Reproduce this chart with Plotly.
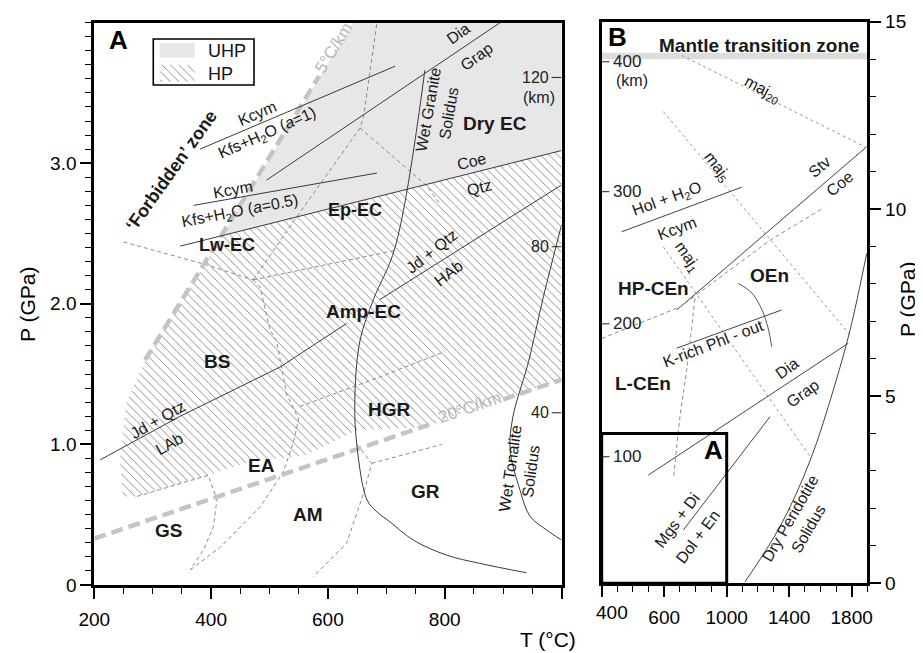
import plotly.graph_objects as go

FONT = "Liberation Sans, Arial, Helvetica, sans-serif"
# page body has an 8px margin: the figure is sized/positioned to compensate
OFF = 8
FW, FH = 923 - OFF, 653 - OFF

def px(x):
    return (x - OFF) / FW

def py(y):
    return 1 - (y - OFF) / FH

# ---------------- Panel A data (T in °C, P in GPa) ----------------
uhp_T = [418, 643, 1000, 1000]
uhp_P = [2.48, 4.0, 4.0, 3.09]
hp_T = [249, 244, 255, 287, 418, 1000, 1000, 760, 650, 560, 470, 395, 273]
hp_P = [0.63, 0.90, 1.30, 1.60, 2.48, 3.09, 1.46, 1.12, 1.10, 0.92, 0.88, 0.78, 0.63]
# geotherms (None = gap left for the label)
geo5_T = [287, 585]
geo5_P = [1.60, 3.62]
geo20_T = [200, 785, None, 900, 1000]
geo20_P = [0.33, 1.157, None, 1.319, 1.46]
kcym1_T = [381, 715]
kcym1_P = [3.10, 3.69]
kcym05_T = [370, 684]
kcym05_P = [2.70, 2.93]
diagrapA_T = [495, 895]
diagrapA_P = [2.88, 4.00]
coeqtzA_T = [347, 1000]
coeqtzA_P = [2.41, 3.09]
jdqtzA_T = [210, 347, 518, 632, None, 689, 1000]
jdqtzA_P = [0.89, 1.20, 1.55, 1.86, None, 2.03, 2.845]
wetgran_T = [766, 715, 678, 655, 646, 650, 667, 684, 706, 746, 803, 860, 940]
wetgran_P = [3.66, 2.40, 2.03, 1.74, 1.30, 0.98, 0.605, 0.52, 0.45, 0.32, 0.213, 0.154, 0.087]
wettonal_T = [1000, 969, 943, 917, 912, 929, 946, 975, 1000]
wettonal_P = [2.56, 2.05, 1.58, 1.20, 0.96, 0.675, 0.49, 0.39, 0.32]
facies_A = {
    "f1": ([250, 390, 472], [2.44, 2.28, 2.17]),
    "f2": ([472, 535, 655, 661, 684], [2.17, 2.55, 3.25, 3.33, 4.0]),
    "f3": ([655, 769, 790], [3.25, 2.84, 2.72]),
    "f4": ([472, 715], [2.17, 2.38]),
    "f5": ([472, 484, 501, 512, 529, 550, 540, 523, 484, 416, 364],
           [2.17, 2.12, 1.81, 1.74, 1.36, 1.18, 1.00, 0.80, 0.555, 0.27, 0.107]),
    "f6": ([273, 395, 410, 404, 387, 364], [0.63, 0.78, 0.61, 0.415, 0.25, 0.107]),
    "f7": ([650, 675, 661, 632, 575], [1.0, 0.865, 0.652, 0.297, 0.06]),
    "f8": ([675, 795], [0.865, 1.0]),
    "f9": ([552, 689, 800], [1.27, 1.48, 1.66]),
}
depthA_P = [3.61, 2.406, 1.225]
depthA_lab = ["120", "80", "40"]

# ---------------- Panel B data ----------------
tz_P = [14.0, 14.17]
maj20_T = [712, 1885]
maj20_P = [14.1, 11.66]
maj5_T = [594, 1790]
maj5_P = [12.6, 6.63]
maj1_T = [594, 1540]
maj1_P = [8.99, 3.35]
stvcoe_T = [680, 1896]
stvcoe_P = [7.30, 11.66]
cen_T = [200, 700, 1280, 1608]
cen_P = [6.54, 7.38, 9.17, 10.0]
hol_T = [328, 1096]
hol_P = [9.39, 10.58]
phl_T = [680, 1352]
phl_P = [6.28, 7.30]
oen_T = [1074, 1162, 1226, 1265, 1288]
oen_P = [8.01, 7.75, 7.30, 6.82, 6.32]
diagrapB_T = [498, 1778]
diagrapB_P = [2.89, 6.41]
solidus_T = [1117, 1341, 1535, 1682, 1790, 1896]
solidus_P = [0.04, 1.51, 3.29, 5.16, 6.77, 8.81]
mgs_T = [722, 1277]
mgs_P = [1.42, 4.45]
cenv_T = [797, 744, 701, 660]
cenv_P = [7.61, 5.70, 4.45, 2.80]
depthB_P = [13.93, 10.46, 6.93, 3.38]
depthB_lab = ["400", "300", "200", "100"]

# ticks
xA_ticks = [200, 400, 600, 800, 1000]
xA_text = ["200", "400", "600", "800", ""]
yA_ticks = [0, 1, 2, 3]
yA_text = ["0", "1.0", "2.0", "3.0"]
xB_ticks = [200, 600, 1000, 1400, 1800]
xB_text = ["", "600", "1000", "1400", "1800"]
xB_first_label = "400"
yB_ticks = [0, 5, 10, 15]
yB_text = ["0", "5", "10", "15"]

fig = go.Figure()

def ax(p):
    return ("x", "y") if p == "A" else ("x2", "y2")

def line(p, T, P, color="#3a3a3a", width=1.0, dash="solid", shape="linear"):
    xa, ya = ax(p)
    fig.add_trace(go.Scatter(x=T, y=P, mode="lines", xaxis=xa, yaxis=ya,
                             line=dict(color=color, width=width, dash=dash, shape=shape),
                             hoverinfo="skip", showlegend=False, connectgaps=False))

# fills
fig.add_trace(go.Scatter(x=uhp_T, y=uhp_P, fill="toself", fillcolor="#e7e7e7",
                         mode="none", xaxis="x", yaxis="y", showlegend=False, hoverinfo="skip"))
hatch = dict(shape="\\", size=6, solidity=0.14, fgcolor="#7a7a7a", bgcolor="rgba(255,255,255,0)")
fig.add_trace(go.Scatter(x=hp_T, y=hp_P, fill="toself", fillcolor="rgba(255,255,255,0)",
                         fillpattern=hatch, mode="none", xaxis="x", yaxis="y",
                         showlegend=False, hoverinfo="skip"))
# legend hatch patch
fig.add_trace(go.Scatter(x=[312, 372, 372, 312], y=[3.58, 3.58, 3.70, 3.70], fill="toself",
                         fillcolor="rgba(255,255,255,0)", fillpattern=hatch, mode="none",
                         xaxis="x", yaxis="y", showlegend=False, hoverinfo="skip"))

# panel A lines
DASH = "4px,3px"
for T, P in facies_A.values():
    line("A", T, P, color="#8a8a8a", width=1.0, dash=DASH)
line("A", geo5_T, geo5_P, color="#c4c4c4", width=4.5, dash="12px,6px")
line("A", geo20_T, geo20_P, color="#c4c4c4", width=4.5, dash="12px,6px")
line("A", kcym1_T, kcym1_P)
line("A", kcym05_T, kcym05_P)
line("A", diagrapA_T, diagrapA_P)
line("A", coeqtzA_T, coeqtzA_P)
line("A", jdqtzA_T, jdqtzA_P)
line("A", wetgran_T, wetgran_P, shape="spline")
line("A", wettonal_T, wettonal_P, shape="spline")

# panel B lines
line("B", maj20_T, maj20_P, color="#999", width=1, dash="dot")
line("B", maj5_T, maj5_P, color="#999", width=1, dash="dot")
line("B", maj1_T, maj1_P, color="#999", width=1, dash="dot")
line("B", stvcoe_T, stvcoe_P, color="#444")
line("B", cen_T, cen_P, color="#8a8a8a", dash=DASH)
line("B", hol_T, hol_P, color="#444")
line("B", phl_T, phl_P, color="#444")
line("B", oen_T, oen_P, color="#555", shape="spline")
line("B", diagrapB_T, diagrapB_P, color="#444")
line("B", solidus_T, solidus_P, color="#444", shape="spline")
line("B", mgs_T, mgs_P, color="#444")
line("B", cenv_T, cenv_P, color="#8a8a8a", dash=DASH, shape="spline")

shapes = []
# legend box panel A
shapes.append(dict(type="rect", xref="x", yref="y", x0=301, x1=473.5, y0=3.556, y1=3.883,
                   line=dict(color="black", width=1.6)))
shapes.append(dict(type="rect", xref="x", yref="y", x0=312, x1=372, y0=3.75, y1=3.855,
                   fillcolor="#e7e7e7", line=dict(width=0)))
# depth ticks panel A
for p in depthA_P:
    shapes.append(dict(type="line", xref="x", yref="y", x0=983, x1=1000, y0=p, y1=p,
                       line=dict(color="#222", width=1)))
# mantle transition zone band
shapes.append(dict(type="rect", xref="x2", yref="y2", x0=200, x1=1900, y0=tz_P[0], y1=tz_P[1],
                   fillcolor="#dcdcdc", line=dict(width=0), layer="below"))
# depth ticks panel B
for p in depthB_P:
    shapes.append(dict(type="line", xref="x2", yref="y2", x0=200, x1=250, y0=p, y1=p,
                       line=dict(color="#222", width=1)))
# inset box A in panel B
shapes.append(dict(type="rect", xref="x2", yref="y2", x0=200, x1=1000, y0=0, y1=4,
                   line=dict(color="black", width=3)))

anns = []
def t(p, x, y, s, size=16, angle=0, bold=False, color="#1a1a1a", xanchor="center"):
    xa, ya = ax(p)
    anns.append(dict(x=x, y=y, xref=xa, yref=ya, text=("<b>%s</b>" % s) if bold else s,
                     showarrow=False, textangle=angle, xanchor=xanchor, yanchor="middle",
                     font=dict(size=size, family=FONT, color=color)))

GRAYTXT = "#b8b8b8"
# panel A labels
t("A", 240.6, 3.876, "A", 26, 0, True, "black")
t("A", 392, 3.80, "UHP", 18, 0, False, "#111", "left")
t("A", 392, 3.635, "HP", 18, 0, False, "#111", "left")
t("A", 333, 2.95, "‘Forbidden’ zone", 18, -54.5, True)
t("A", 478, 3.357, "Kcym", 16, -23)
t("A", 496, 3.21, "Kfs+H<sub>2</sub>O (<i>a</i>=1)", 16, -24)
t("A", 437.5, 2.81, "Kcym", 16, -10)
t("A", 449.5, 2.653, "Kfs+H<sub>2</sub>O (<i>a</i>=0.5)", 16, -11)
t("A", 426.7, 2.418, "Lw-EC", 18, 0, True)
t("A", 646, 2.667, "Ep-EC", 18, 0, True)
t("A", 823, 3.924, "Dia", 16, -36)
t("A", 855, 3.757, "Grap", 16, -36)
t("A", 790, 3.37, "Wet Granite<br>Solidus", 16, -80)
t("A", 886, 3.284, "Dry EC", 19, 0, True)
t("A", 846, 3.01, "Coe", 16, -14)
t("A", 860, 2.824, "Qtz", 16, -14)
t("A", 777.7, 2.371, "Jd + Qtz", 16, -38)
t("A", 806, 2.217, "HAb", 16, -38)
t("A", 660.6, 1.944, "Amp-EC", 19, 0, True)
t("A", 706.3, 1.245, "HGR", 19, 0, True)
t("A", 843, 1.265, "20°C/km", 17, -19, False, GRAYTXT)
t("A", 611, 3.82, "5°C/km", 17, -58, False, GRAYTXT)
t("A", 930, 0.818, "Wet Tonalite<br>Solidus", 16, -82)
t("A", 409.6, 1.588, "BS", 19, 0, True)
t("A", 309.6, 1.174, "Jd + Qtz", 16, -30)
t("A", 329.6, 1.008, "LAb", 16, -30)
t("A", 486.6, 0.853, "EA", 19, 0, True)
t("A", 326.7, 0.391, "GS", 19, 0, True)
t("A", 566.4, 0.498, "AM", 19, 0, True)
t("A", 766.3, 0.664, "GR", 19, 0, True)
for p, lab in zip(depthA_P, depthA_lab):
    t("A", 982, p, lab, 16, 0, False, "#222", "right")
t("A", 962, 3.47, "(km)", 16, 0, False, "#222")

# panel B labels
t("B", 304, 14.59, "B", 26, 0, True, "black")
t("B", 1213, 14.36, "Mantle transition zone", 19, 0, True)
t("B", 1224, 13.18, "maj<sub>20</sub>", 16, 28)
t("B", 936, 11.13, "maj<sub>5</sub>", 16, 52)
t("B", 616, 10.24, "Hol + H<sub>2</sub>O", 16, -20)
t("B", 680, 9.48, "Kcym", 16, -20)
t("B", 1597, 11.13, "Stv", 16, -40)
t("B", 1725, 10.68, "Coe", 16, -40)
t("B", 530, 7.88, "HP-CEn", 19, 0, True)
t("B", 1277, 8.23, "OEn", 19, 0, True)
t("B", 914, 6.41, "K-rich Phl - out", 16, -21)
t("B", 466, 5.34, "L-CEn", 19, 0, True)
t("B", 1384, 5.74, "Dia", 16, -36)
t("B", 1486, 5.07, "Grap", 16, -36)
t("B", 914, 3.56, "A", 26, 0, True, "black")
t("B", 744, 8.72, "maj<sub>1</sub>", 16, 55)
t("B", 680, 1.69, "Mgs + Di", 16, -53)
t("B", 818, 1.245, "Dol + En", 16, -53)
t("B", 1469, 1.60, "Dry Peridotite<br>Solidus", 16, -60)
for p, lab in zip(depthB_P, depthB_lab):
    t("B", 258, p, lab, 17, 0, False, "#222", "left")
t("B", 392, 13.44, "(km)", 16, 0, False, "#222")

# axis titles and extra tick label (anchors fixed to centre)
def paper_text(x, y, s, size, angle=0, xref="paper"):
    anns.append(dict(x=x, y=y, xref=xref, yref="paper", text=s, showarrow=False,
                     textangle=angle, xanchor="center", yanchor="middle",
                     font=dict(size=size, family=FONT, color="black")))

paper_text(px(548), py(639), "T (°C)", 21)
paper_text(px(27), py(305), "P (GPa)", 21, -90)
paper_text(px(907), py(300), "P (GPa)", 21, -90)
paper_text(265, py(612), xB_first_label, 19, 0, "x2")

common = dict(showgrid=False, zeroline=False, showline=True, linecolor="black", linewidth=3,
              mirror=True, ticks="outside", tickcolor="black", tickwidth=1.5, ticklen=11,
              tickfont=dict(size=19, family=FONT, color="black"), fixedrange=True)

def minor(d, t0):
    return dict(dtick=d, tick0=t0, ticks="outside", ticklen=6, tickcolor="black",
                tickwidth=1.2, showgrid=False)

fig.update_layout(
    width=FW, height=FH, margin=dict(l=0, r=0, t=0, b=0),
    paper_bgcolor="white", plot_bgcolor="white", template="none",
    showlegend=False, shapes=shapes, annotations=anns,
    xaxis=dict(common, domain=[px(94.3), px(561.5)], range=[200, 1000], anchor="y",
               tickmode="array", tickvals=xA_ticks, ticktext=xA_text, minor=minor(50, 200),
               ticklabelstandoff=4),
    yaxis=dict(common, domain=[py(585), py(22.6)], range=[0, 4], anchor="x",
               tickmode="array", tickvals=yA_ticks, ticktext=yA_text, minor=minor(0.1, 0)),
    xaxis2=dict(common, domain=[px(601.7), px(867.3)], range=[200, 1900], anchor="y2",
                tickmode="array", tickvals=xB_ticks, ticktext=xB_text, minor=minor(100, 200),
                ticklabelstandoff=4),
    yaxis2=dict(common, domain=[py(583.3), py(21.7)], range=[0, 15], anchor="x2",
                side="right", tickmode="array", tickvals=yB_ticks, ticktext=yB_text,
                minor=minor(1, 0)),
)

fig.write_html("out.html")
